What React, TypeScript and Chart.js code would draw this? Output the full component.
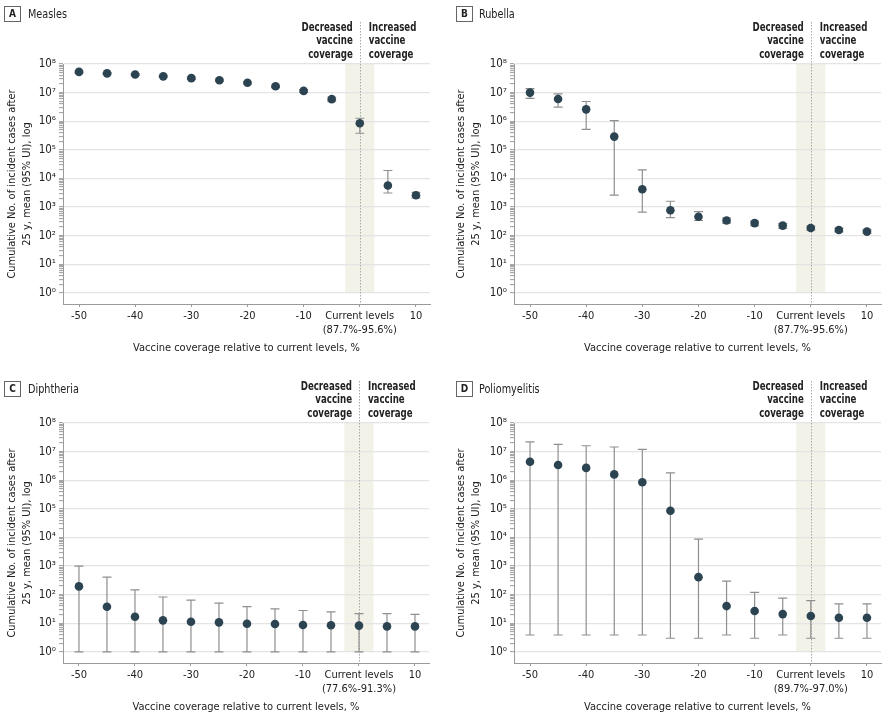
import React, { useEffect, useRef } from "react";
import { Chart, registerables } from "chart.js";

Chart.register(...registerables);

// ---------- data ----------
const COVERAGE = [-50, -45, -40, -35, -30, -25, -20, -15, -10, -5, 0, 5, 10];
const X_TICKS = [-50, -40, -30, -20, -10, 0, 10];
const Y_TICK_LABELS = ["10⁰", "10¹", "10²", "10³", "10⁴", "10⁵", "10⁶", "10⁷", "10⁸"];
const CURRENT_BAND = [-2.6, 2.6];
const Y_MIN = 0.41;
const Y_MAX = 1e8;

const measlesMean = [5.3e7, 4.7e7, 4.3e7, 3.7e7, 3.2e7, 2.7e7, 2.2e7, 1.66e7, 1.15e7, 5.9e6, 8.5e5, 5.7e3, 2.6e3];
const measlesLow = [4.9e7, 4.4e7, 4.0e7, 3.4e7, 2.9e7, 2.45e7, 2.0e7, 1.5e7, 1.03e7, 5.0e6, 3.8e5, 3.1e3, 2.1e3];
const measlesHigh = [5.7e7, 5.0e7, 4.6e7, 4.0e7, 3.5e7, 2.95e7, 2.4e7, 1.8e7, 1.27e7, 6.9e6, 1.27e6, 1.9e4, 3.3e3];

const rubellaMean = [1.0e7, 6.0e6, 2.6e6, 2.9e5, 4.2e3, 770, 460, 340, 275, 225, 185, 158, 139];
const rubellaLow = [6.3e6, 3.1e6, 5.2e5, 2.6e3, 670, 425, 340, 275, 225, 181, 155, 135, 120];
const rubellaHigh = [1.38e7, 9e6, 4.9e6, 1.05e6, 2.0e4, 1.6e3, 690, 415, 325, 262, 215, 185, 160];

const diphtheriaMean = [195, 38, 17, 12.7, 11.4, 10.8, 9.7, 9.5, 8.7, 8.5, 8.3, 7.8, 7.8];
const diphtheriaLow = [1, 1, 1, 1, 1, 1, 1, 1, 1, 1, 1, 1, 1];
const diphtheriaHigh = [1000, 410, 148, 83, 65, 51, 38, 32, 28, 25, 21.7, 21.7, 20.5];

const polioMean = [4.4e6, 3.4e6, 2.7e6, 1.6e6, 8.5e5, 8.6e4, 410, 40, 27, 21, 18, 15.6, 15.6];
const polioLow = [3.9, 3.9, 3.9, 3.9, 3.9, 3.0, 3.0, 3.9, 3.0, 3.9, 3.0, 3.0, 3.0];
const polioHigh = [2.2e7, 1.8e7, 1.6e7, 1.45e7, 1.2e7, 1.8e6, 8.7e3, 297, 120, 76, 62, 48, 48];

const Y_TITLE = ["Cumulative No. of incident cases after", "25 y, mean (95% UI), log"];
const X_TITLE = "Vaccine coverage relative to current levels, %";
const DECREASED_TEXT = ["Decreased", "vaccine", "coverage"];
const INCREASED_TEXT = ["Increased", "vaccine", "coverage"];

// ---------- styles ----------
const FONT = "'DejaVu Sans Condensed', 'Liberation Sans', sans-serif";
const TEXT_COLOR = "#222";
const POINT_COLOR = "#2c4452";
const ERR_COLOR = "#8f8f8f";
const GRID_COLOR = "#e4e4e4";
const AXIS_COLOR = "#9a9a9a";
const BAND_COLOR = "#f2f2e9";

type Layout = {
  left: number; top: number; w: number; h: number;
  areaLeft: number; areaTop: number; areaBottom: number; areaRight: number;
  yTitlePad: number; xTitlePad: number;
  headerY: number; boxX: number; titleX: number; annotY: number;
};

type PanelProps = {
  letter: string;
  name: string;
  mean: number[];
  low: number[];
  high: number[];
  current: string;
  layout: Layout;
};

function isDecade(v: number) {
  const l = Math.log10(v);
  return Math.abs(l - Math.round(l)) < 1e-9;
}

function squeezeText(ctx: CanvasRenderingContext2D, t: string, x: number, y: number, f: number) {
  const w = ctx.measureText(t).width;
  ctx.fillText(t, x, y, w * f);
}

function Panel({ letter, name, mean, low, high, current, layout }: PanelProps) {
  const ref = useRef<HTMLCanvasElement | null>(null);

  useEffect(() => {
    if (!ref.current) return;
    const L = layout;

    const overlay = {
      id: "overlay",
      beforeDraw(chart: any) {
        const { ctx, scales } = chart;
        const x = scales.x, y = scales.y;
        ctx.save();
        ctx.fillStyle = BAND_COLOR;
        const x0 = x.getPixelForValue(CURRENT_BAND[0]);
        const x1 = x.getPixelForValue(CURRENT_BAND[1]);
        const yTop = y.getPixelForValue(Y_MAX);
        const yBot = y.getPixelForValue(1);
        ctx.fillRect(x0, yTop, x1 - x0, yBot - yTop);
        ctx.restore();
      },
      beforeDatasetsDraw(chart: any) {
        const { ctx, scales, chartArea } = chart;
        const x = scales.x, y = scales.y;
        ctx.save();
        const xc = Math.round(x.getPixelForValue(0)) + 0.5;
        ctx.strokeStyle = "#a8a8a8";
        ctx.lineWidth = 1;
        ctx.setLineDash([1.5, 1.5]);
        ctx.beginPath();
        ctx.moveTo(xc, L.annotY - 6);
        ctx.lineTo(xc, chartArea.bottom);
        ctx.stroke();
        ctx.setLineDash([]);
        ctx.strokeStyle = ERR_COLOR;
        ctx.lineWidth = 1.2;
        COVERAGE.forEach((c, i) => {
          const px = x.getPixelForValue(c);
          const pl = y.getPixelForValue(low[i]);
          const ph = y.getPixelForValue(high[i]);
          ctx.beginPath();
          ctx.moveTo(px, pl);
          ctx.lineTo(px, ph);
          ctx.moveTo(px - 4.5, pl);
          ctx.lineTo(px + 4.5, pl);
          ctx.moveTo(px - 4.5, ph);
          ctx.lineTo(px + 4.5, ph);
          ctx.stroke();
        });
        ctx.restore();
      },
      afterDraw(chart: any) {
        const { ctx, scales } = chart;
        const x = scales.x;
        ctx.save();
        ctx.strokeStyle = "#666";
        ctx.lineWidth = 1;
        ctx.fillStyle = "#fff";
        ctx.fillRect(L.boxX + 0.5, L.headerY - 7.5, 16, 15);
        ctx.strokeRect(L.boxX + 0.5, L.headerY - 7.5, 16, 15);
        ctx.fillStyle = TEXT_COLOR;
        ctx.font = `bold 10px ${FONT}`;
        ctx.textAlign = "center";
        ctx.textBaseline = "middle";
        ctx.fillText(letter, L.boxX + 8.5, L.headerY + 0.5);
        ctx.font = `12.5px ${FONT}`;
        ctx.textAlign = "left";
        squeezeText(ctx, name, L.titleX, L.headerY + 0.5, 0.86);
        const xc = x.getPixelForValue(0);
        ctx.font = `bold 12px ${FONT}`;
        ctx.textAlign = "right";
        DECREASED_TEXT.forEach((t, i) => squeezeText(ctx, t, xc - 7, L.annotY + i * 13.2, 0.8));
        ctx.textAlign = "left";
        INCREASED_TEXT.forEach((t, i) => squeezeText(ctx, t, xc + 9, L.annotY + i * 13.2, 0.8));
        ctx.restore();
      },
    };

    const chart = new Chart(ref.current, {
      type: "scatter",
      data: {
        datasets: [
          {
            data: COVERAGE.map((c, i) => ({ x: c, y: mean[i] })),
            backgroundColor: POINT_COLOR,
            borderColor: POINT_COLOR,
            borderWidth: 0,
            pointRadius: 4.3,
            showLine: false,
          },
        ],
      },
      options: {
        animation: false,
        responsive: false,
        events: [],
        layout: {
          padding: { left: 0, top: L.areaTop, right: L.w - L.areaRight, bottom: 0 },
        },
        plugins: {
          legend: { display: false },
          tooltip: { enabled: false },
        },
        scales: {
          x: {
            type: "linear",
            min: -52.85,
            max: 12.5,
            afterBuildTicks: (s: any) => {
              s.ticks = X_TICKS.map((v) => ({ value: v }));
            },
            afterFit: (s: any) => {
              s.height = L.h - L.areaBottom;
            },
            grid: {
              drawOnChartArea: false,
              drawTicks: true,
              tickLength: 3,
              tickColor: AXIS_COLOR,
            },
            border: { display: true, color: AXIS_COLOR, width: 1 },
            ticks: {
              autoSkip: false,
              maxRotation: 0,
              padding: 3,
              color: TEXT_COLOR,
              font: { family: FONT, size: 11, lineHeight: 1.2 },
              callback: (v: any) => (v === 0 ? ["Current levels", current] : String(v)),
            },
            title: {
              display: true,
              text: X_TITLE,
              color: TEXT_COLOR,
              font: { family: FONT, size: 11, lineHeight: 1.33 },
              padding: { top: 0, bottom: L.xTitlePad },
            },
          },
          y: {
            type: "logarithmic",
            min: Y_MIN,
            max: Y_MAX,
            afterBuildTicks: (s: any) => {
              const t: { value: number }[] = [];
              for (let e = 0; e <= 8; e++) {
                const base = Math.pow(10, e);
                t.push({ value: base });
                if (e < 8) for (let m = 2; m <= 9; m++) t.push({ value: m * base });
              }
              s.ticks = t;
            },
            afterFit: (s: any) => {
              s.width = L.areaLeft;
            },
            grid: {
              drawOnChartArea: true,
              drawTicks: true,
              tickLength: 4,
              lineWidth: 1.3,
              color: (ctx: any) => (ctx.tick && isDecade(ctx.tick.value) ? GRID_COLOR : "rgba(0,0,0,0)"),
              tickColor: AXIS_COLOR,
              tickWidth: 1,
            },
            border: { display: true, color: AXIS_COLOR, width: 1 },
            ticks: {
              autoSkip: false,
              padding: 3,
              color: TEXT_COLOR,
              font: { family: FONT, size: 11.5 },
              callback: (v: any) => {
                if (!isDecade(v)) return "";
                return Y_TICK_LABELS[Math.round(Math.log10(v))];
              },
            },
            title: {
              display: true,
              text: Y_TITLE,
              color: TEXT_COLOR,
              font: { family: FONT, size: 11, lineHeight: 1.33 },
              padding: { top: L.yTitlePad, bottom: 0 },
            },
          },
        },
      },
      plugins: [overlay],
    } as any);

    return () => chart.destroy();
  }, []);

  return (
    <canvas
      ref={ref}
      width={layout.w}
      height={layout.h}
      style={{
        position: "absolute",
        left: layout.left,
        top: layout.top,
        width: layout.w,
        height: layout.h,
      }}
    />
  );
}

const LAYOUT_A: Layout = { left: 0, top: 0, w: 443, h: 360, areaLeft: 63, areaTop: 64, areaBottom: 304, areaRight: 430, yTitlePad: 5, xTitlePad: 5, headerY: 14, boxX: 4, titleX: 28, annotY: 28 };
const LAYOUT_B: Layout = { left: 443, top: 0, w: 443, h: 360, areaLeft: 71, areaTop: 64, areaBottom: 304, areaRight: 438, yTitlePad: 11, xTitlePad: 5, headerY: 14, boxX: 13, titleX: 36, annotY: 28 };
const LAYOUT_C: Layout = { left: 0, top: 360, w: 443, h: 358, areaLeft: 63, areaTop: 63, areaBottom: 303, areaRight: 429, yTitlePad: 5, xTitlePad: 4, headerY: 29, boxX: 4, titleX: 28, annotY: 27 };
const LAYOUT_D: Layout = { left: 443, top: 360, w: 443, h: 358, areaLeft: 71, areaTop: 63, areaBottom: 303, areaRight: 438, yTitlePad: 11, xTitlePad: 4, headerY: 29, boxX: 13, titleX: 36, annotY: 27 };

export default function App() {
  return (
    <div style={{ position: "absolute", left: 0, top: 0, width: 886, height: 718, background: "#fff" }}>
      <Panel letter="A" name="Measles" mean={measlesMean} low={measlesLow} high={measlesHigh} current="(87.7%-95.6%)" layout={LAYOUT_A} />
      <Panel letter="B" name="Rubella" mean={rubellaMean} low={rubellaLow} high={rubellaHigh} current="(87.7%-95.6%)" layout={LAYOUT_B} />
      <Panel letter="C" name="Diphtheria" mean={diphtheriaMean} low={diphtheriaLow} high={diphtheriaHigh} current="(77.6%-91.3%)" layout={LAYOUT_C} />
      <Panel letter="D" name="Poliomyelitis" mean={polioMean} low={polioLow} high={polioHigh} current="(89.7%-97.0%)" layout={LAYOUT_D} />
    </div>
  );
}
